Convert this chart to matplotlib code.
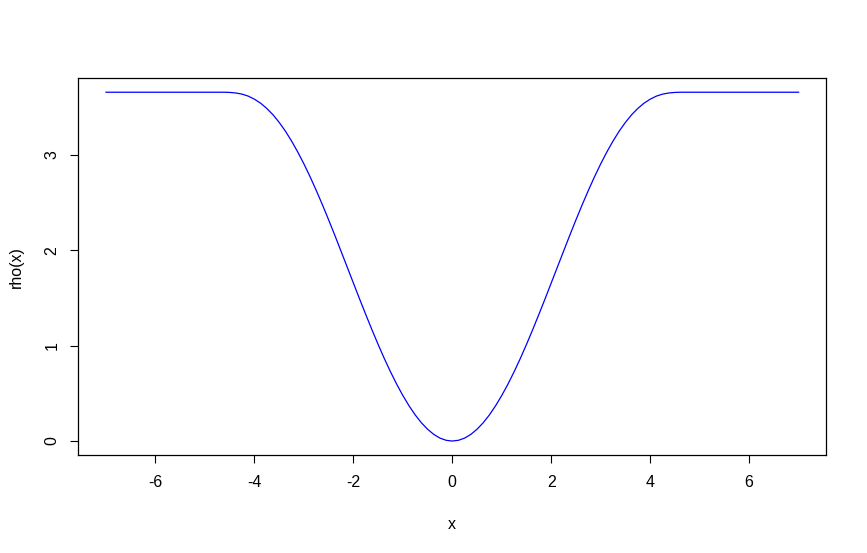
import matplotlib
matplotlib.use("Agg")
import matplotlib.pyplot as plt

# Values (symmetric curve, flat outside |x| ~ 4.685)
x_right = [0.0, 0.125, 0.25, 0.375, 0.5, 0.625, 0.75, 0.875, 1.0, 1.125, 1.25,
           1.375, 1.5, 1.625, 1.75, 1.875, 2.0, 2.125, 2.25, 2.375, 2.5, 2.625,
           2.75, 2.875, 3.0, 3.125, 3.25, 3.375, 3.5, 3.625, 3.75, 3.875, 4.0,
           4.125, 4.25, 4.375, 4.5, 4.625, 4.685, 7.0]
rho_right = [0.0, 0.008, 0.031, 0.070, 0.124, 0.192, 0.274, 0.370, 0.478,
             0.597, 0.727, 0.866, 1.014, 1.168, 1.328, 1.491, 1.658, 1.825,
             1.992, 2.158, 2.320, 2.477, 2.628, 2.772, 2.907, 3.032, 3.147,
             3.251, 3.342, 3.422, 3.488, 3.543, 3.585, 3.617, 3.638, 3.650,
             3.656, 3.658, 3.658, 3.658]

x_vals = [-v for v in x_right[::-1]] + x_right[1:]
rho_vals = rho_right[::-1] + rho_right[1:]

x_ticks = [-6, -4, -2, 0, 2, 4, 6]
y_ticks = [0, 1, 2, 3]

plt.rcParams['font.family'] = ['Liberation Sans', 'DejaVu Sans']

fig = plt.figure(figsize=(8.67, 5.53), dpi=100)
ax = fig.add_axes([78.3 / 867, (553 - 455) / 553, (826.3 - 78.3) / 867, (455 - 78.3) / 553])
ax.plot(x_vals, rho_vals, color='blue', linewidth=0.9)

ax.set_xlim(-7.56, 7.56)
ax.set_ylim(-0.1463, 3.804)
ax.set_xticks(x_ticks)
ax.set_yticks(y_ticks)
ax.set_xticklabels([str(t) for t in x_ticks])
ax.set_yticklabels([str(t) for t in y_ticks], rotation=90, va='center')
ax.tick_params(axis='both', direction='out', length=5.5, width=0.8, labelsize=11.5, pad=9)
ax.tick_params(axis='y', pad=8)
for s in ax.spines.values():
    s.set_linewidth(0.9)

ax.set_xlabel('x', fontsize=11.5, labelpad=19)
ax.set_ylabel('rho(x)', fontsize=11.5, labelpad=15)

fig.savefig('out.png', dpi=100)
